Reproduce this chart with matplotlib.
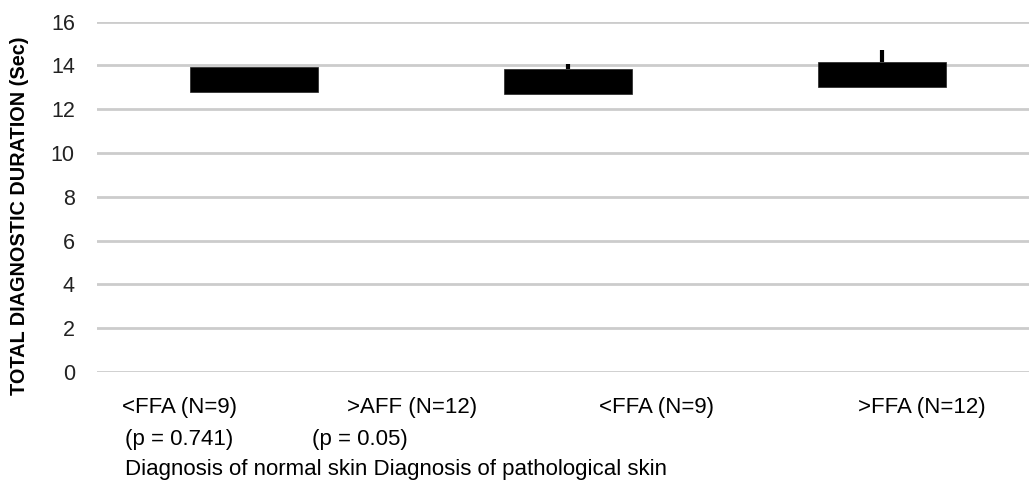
import matplotlib
matplotlib.use("Agg")
import matplotlib.pyplot as plt

plt.rcParams['font.family'] = ['Liberation Sans', 'DejaVu Sans']

# Data
groups = ["<FFA (N=9)", ">AFF (N=12)", "<FFA (N=9)", ">FFA (N=12)"]
p_values = ["(p = 0.741)", "(p = 0.05)"]
footer = "Diagnosis of normal skin Diagnosis of pathological skin"
bar_low = [12.8, 12.7, 13.0]
bar_high = [13.95, 13.85, 14.15]
bar_err = [0.0, 0.2, 0.55]
yticks = [0, 2, 4, 6, 8, 10, 12, 14, 16]
ylabel = "TOTAL DIAGNOSTIC DURATION (Sec)"

W, H = 1029, 499
fig = plt.figure(figsize=(W / 100, H / 100), dpi=100)
left_px, right_px = 97, 1029
top_px, bot_px = 21.7, 372
ax = fig.add_axes([left_px / W, 1 - bot_px / H, (right_px - left_px) / W, (bot_px - top_px) / H])

x = list(range(len(bar_low)))
heights = [h - l for h, l in zip(bar_high, bar_low)]
ax.bar(x, heights, bottom=bar_low, width=0.41, color="black", edgecolor="#222222", linewidth=0.5, zorder=3)
for xi, top, e in zip(x, bar_high, bar_err):
    if e > 0:
        ax.plot([xi, xi], [top, top + e], color="black", lw=3, solid_capstyle="butt", zorder=3)

ax.set_xlim(-0.5, -0.5 + (right_px - left_px) / 314.0)
ax.set_ylim(0, 16)
ax.set_yticks(yticks)
ax.set_yticklabels([str(t) for t in yticks], fontsize=15.5, color="#222222")
ax.tick_params(axis="y", length=0, pad=16)
ax.set_xticks([])
ax.yaxis.grid(True, color="#cccccc", lw=2)
ax.set_axisbelow(True)
for s in ax.spines.values():
    s.set_visible(False)

def ftext(px, py, s, **kw):
    fig.text(px / W, 1 - py / H, s, va="center", **kw)

fs = 16
ftext(122, 408, groups[0], fontsize=fs, ha="left")
ftext(347, 408, groups[1], fontsize=fs, ha="left")
ftext(599, 408, groups[2], fontsize=fs, ha="left")
ftext(858, 408, groups[3], fontsize=fs, ha="left")
ftext(125, 440, p_values[0], fontsize=fs, ha="left")
ftext(312, 440, p_values[1], fontsize=fs, ha="left")
ftext(125, 469, footer, fontsize=fs, ha="left")

fig.text(20 / W, 1 - 216 / H, ylabel, rotation=90, fontsize=14.3, fontweight="bold",
         ha="center", va="center")

fig.savefig("out.png", dpi=100, facecolor="white")
